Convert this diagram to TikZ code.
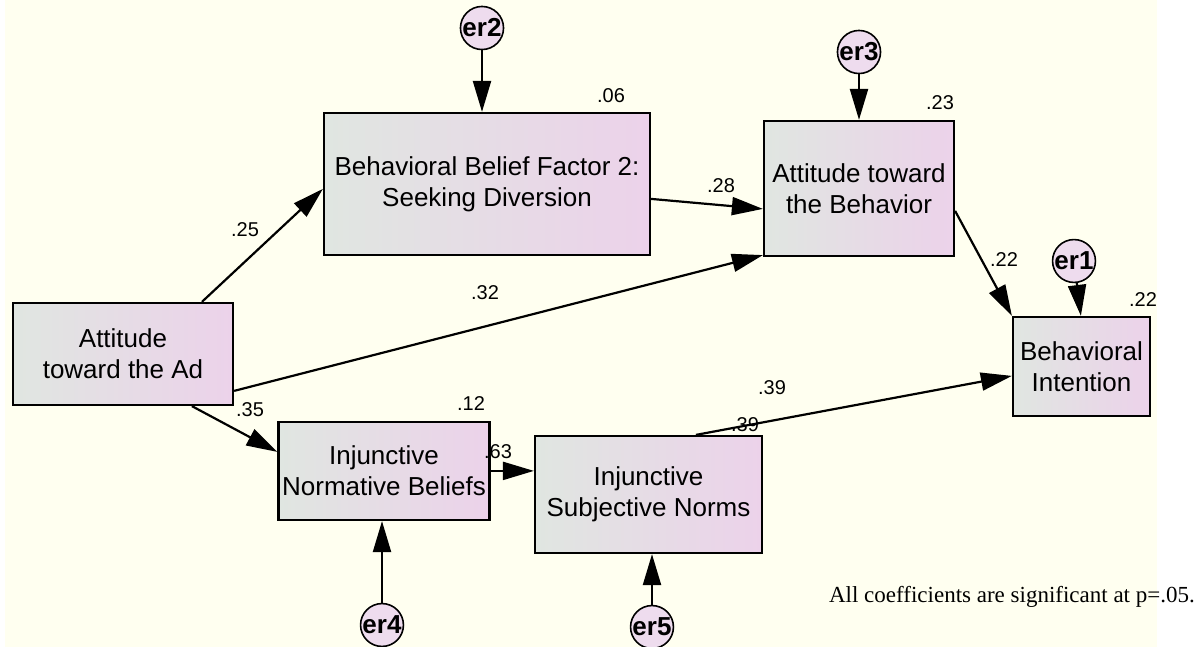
\documentclass[tikz,border=0pt]{standalone}
\usepackage{fontspec}
\setmainfont{Liberation Sans}
\newfontfamily\notefont{Liberation Serif}
\usetikzlibrary{arrows.meta,calc}
\definecolor{paper}{RGB}{255,255,240}
\definecolor{boxleft}{RGB}{224,230,225}
\definecolor{boxright}{RGB}{236,210,234}
\definecolor{errfill}{RGB}{238,220,238}
\begin{document}
\begin{tikzpicture}[x=1pt,y=-1pt,
  var/.style={draw=black, line width=2.2pt, left color=boxleft, right color=boxright,
    align=center, inner sep=0pt, font=\fontsize{26}{31}\selectfont},
  err/.style={circle, draw=black, line width=1.6pt, fill=errfill, minimum size=29pt,
    inner sep=0pt, font=\bfseries\fontsize{26}{26}\selectfont},
  link/.style={line width=2.2pt, -{Triangle[length=31pt,width=18pt]}},
  coef/.style={inner sep=0pt, font=\fontsize{20}{20}\selectfont}]

% canvas
\useasboundingbox (0,0) rectangle (1199,647);
\fill[white] (0,0) rectangle (1199,647);
\fill[paper] (5,0) rectangle (1157,647);

% observed variables
\node[var, minimum width=326pt, minimum height=142pt] (bbf) at (487,184)
  {Behavioral Belief Factor 2:\\Seeking Diversion};
\node[var, minimum width=190pt, minimum height=135pt] (atb) at (859,188.5)
  {Attitude toward\\the Behavior};
\node[var, minimum width=220pt, minimum height=102pt] (aad) at (123,354)
  {Attitude\\toward the Ad};
\node[var, minimum width=137pt, minimum height=99pt] (bi) at (1081.5,366.5)
  {Behavioral\\Intention};
\node[var, minimum width=211pt, minimum height=98pt] (inb) at (384,471)
  {Injunctive\\Normative Beliefs};
\node[var, minimum width=227pt, minimum height=117pt] (isn) at (648.5,494.5)
  {Injunctive\\Subjective Norms};

% error terms
\node[err] (er2) at (482,28) {er2};
\node[err] (er3) at (859,52) {er3};
\node[err] (er1) at (1074,261) {er1};
\node[err] (er4) at (382,625) {er4};
\node[err] (er5) at (652,627) {er5};

% error paths
\draw[link] (er2) -- (er2 |- bbf.north);
\draw[link] (er3) -- (er3 |- atb.north);
\draw[link] (er1) -- ($(bi.north west)+(69,0)$);
\draw[link] (er4) -- (er4 |- inb.south);
\draw[link] (er5) -- (er5 |- isn.south);

% structural paths
\draw[link] ($(aad.north west)+(190,0)$) -- ($(bbf.north west)+(0,77)$);
\draw[link] ($(aad.north east)+(0,89)$) -- ($(atb.south west)+(0,-2)$);
\draw[link] ($(aad.south west)+(180,0)$) -- ($(inb.north west)+(0,31)$);
\draw[link] ($(bbf.north east)+(0,87)$) -- ($(atb.north west)+(0,89)$);
\draw[link] ($(atb.north east)+(0,91)$) -- (bi.north west);
\draw[link] ($(inb.north east)+(0,50)$) -- ($(isn.north west)+(0,36)$);
\draw[link] ($(isn.north west)+(162,0)$) -- ($(bi.north west)+(0,60)$);

% squared multiple correlations
\node[coef] (r2bbf) at (611,96) {.06};
\node[coef] (r2atb) at (940,103) {.23};
\node[coef] (r2bi) at (1143,300) {.22};
\node[coef] (r2inb) at (471,404) {.12};
\node[coef] (r2isn) at (745,425) {.39};

% path coefficients
\node[coef] (c1) at (245,230) {.25};
\node[coef] (c2) at (485,293) {.32};
\node[coef] (c3) at (250,410) {.35};
\node[coef] (c4) at (721,186) {.28};
\node[coef] (c5) at (1004,260) {.22};
\node[coef] (c6) at (498,452) {.63};
\node[coef] (c7) at (772,388) {.39};

% footnote
\node[anchor=base east, inner sep=0pt, font=\notefont\fontsize{23}{23}\selectfont] (note)
  at (1195,602) {All coefficients are significant at p=.05.};
\end{tikzpicture}
\end{document}
